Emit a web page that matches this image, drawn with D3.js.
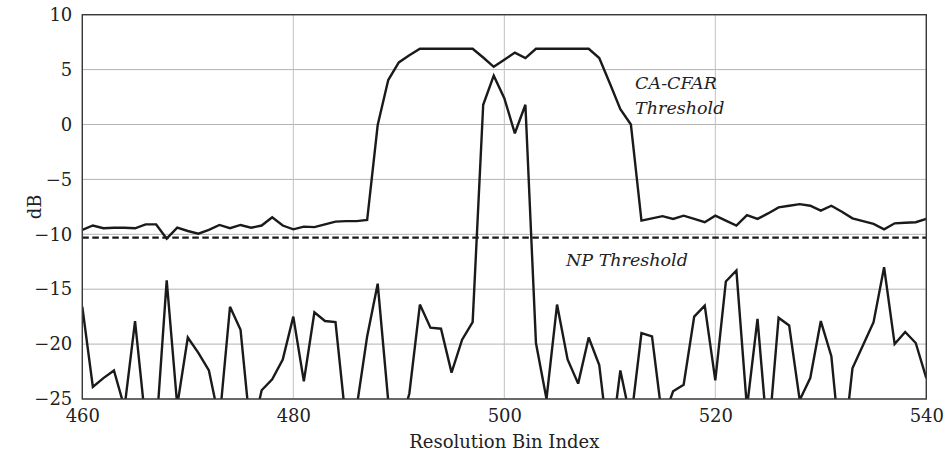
<!DOCTYPE html>
<html>
<head>
<meta charset="utf-8">
<script src="https://cdn.jsdelivr.net/npm/d3@7"></script>
<style>
  html, body { margin: 0; padding: 0; background: #fff; }
  svg { display: block; }
  text { font-family: "DejaVu Serif", "Liberation Serif", serif; fill: #222; }
</style>
</head>
<body>
<svg id="chart" width="945" height="456"></svg>
<script>
// ---- data ----
const bins = [460,461,462,463,464,465,466,467,468,469,470,471,472,473,474,475,476,477,478,479,
  480,481,482,483,484,485,486,487,488,489,490,491,492,493,494,495,496,497,498,499,
  500,501,502,503,504,505,506,507,508,509,510,511,512,513,514,515,516,517,518,519,
  520,521,522,523,524,525,526,527,528,529,530,531,532,533,534,535,536,537,538,539,540];

const signalDb = [-16.6,-23.9,-23.1,-22.4,-25.8,-17.9,-27.2,-28.0,-14.2,-25.6,
  -19.4,-20.8,-22.4,-27.0,-16.6,-18.7,-28.5,-24.2,-23.2,-21.4,
  -17.5,-23.4,-17.1,-17.9,-18.0,-27.2,-25.8,-19.3,-14.5,-25.2,
  -28.0,-24.5,-16.4,-18.5,-18.6,-22.6,-19.6,-18.0,1.8,4.45,
  2.4,-0.8,1.8,-19.9,-25.0,-16.4,-21.4,-23.6,-19.4,-21.9,
  -30.0,-22.4,-27.0,-19.0,-19.3,-27.0,-24.3,-23.7,-17.5,-16.5,
  -23.3,-14.3,-13.3,-25.8,-17.7,-29.0,-17.6,-18.3,-25.1,-23.1,
  -17.9,-21.1,-31.0,-22.2,-20.1,-18.0,-13.0,-20.0,-18.9,-19.9,-23.1];

const cfarDb = [-9.6,-9.2,-9.45,-9.4,-9.4,-9.45,-9.1,-9.1,-10.4,-9.4,
  -9.7,-9.95,-9.6,-9.15,-9.45,-9.15,-9.4,-9.2,-8.45,-9.2,
  -9.55,-9.3,-9.35,-9.1,-8.85,-8.8,-8.8,-8.7,-0.05,4.05,
  5.65,6.3,6.9,6.9,6.9,6.9,6.9,6.9,6.1,5.25,
  5.9,6.55,6.05,6.9,6.9,6.9,6.9,6.9,6.9,6.05,
  3.75,1.4,0.0,-8.75,-8.55,-8.35,-8.6,-8.3,-8.6,-8.9,
  -8.3,-8.75,-9.2,-8.25,-8.6,-8.1,-7.55,-7.4,-7.25,-7.4,
  -7.85,-7.4,-7.95,-8.55,-8.8,-9.05,-9.55,-9.0,-8.95,-8.9,-8.6];

const npThresholdDb = -10.3;

const xTicks = [460, 480, 500, 520, 540];
const yTicks = [10, 5, 0, -5, -10, -15, -20, -25];
const xDomain = [460, 540];
const yDomain = [-25, 10];

// ---- layout ----
const svg = d3.select("#chart");
const margin = { left: 82.3, top: 14.7, right: 945 - 926.3, bottom: 456 - 399 };
const W = 945 - margin.left - margin.right;
const H = 456 - margin.top - margin.bottom;

const x = d3.scaleLinear().domain(xDomain).range([0, W]);
const y = d3.scaleLinear().domain(yDomain).range([H, 0]);

const g = svg.append("g").attr("transform", `translate(${margin.left},${margin.top})`);

svg.append("defs").append("clipPath").attr("id", "plotclip")
  .append("rect").attr("x", 0).attr("y", 0).attr("width", W).attr("height", H);

// gridlines
g.append("g").selectAll("line.hg").data(yTicks).join("line")
  .attr("x1", 0).attr("x2", W)
  .attr("y1", d => y(d)).attr("y2", d => y(d))
  .attr("stroke", "#b3b3b3").attr("stroke-width", 1);
g.append("g").selectAll("line.vg").data(xTicks).join("line")
  .attr("y1", 0).attr("y2", H)
  .attr("x1", d => x(d)).attr("x2", d => x(d))
  .attr("stroke", "#c0c0c0").attr("stroke-width", 1);

// axes (labels only, frame drawn separately)
const fmt = d3.format("");
const xAxis = g.append("g").attr("transform", `translate(0,${H})`)
  .call(d3.axisBottom(x).tickValues(xTicks).tickSize(0).tickPadding(10).tickFormat(fmt));
const yAxis = g.append("g")
  .call(d3.axisLeft(y).tickValues(yTicks).tickSize(0).tickPadding(10).tickFormat(fmt));
[xAxis, yAxis].forEach(a => {
  a.select(".domain").remove();
  a.selectAll("text").attr("font-size", 18).attr("font-family", '"DejaVu Serif", serif').attr("fill", "#222");
});

// data lines
const lineGen = d3.line().x((d, i) => x(bins[i])).y(d => y(d));
const plot = g.append("g").attr("clip-path", "url(#plotclip)");

plot.append("line")
  .attr("x1", 0).attr("x2", W)
  .attr("y1", y(npThresholdDb)).attr("y2", y(npThresholdDb))
  .attr("stroke", "#1a1a1a").attr("stroke-width", 2.4)
  .attr("stroke-dasharray", "6.5,3.5");

plot.append("path").datum(signalDb)
  .attr("d", lineGen).attr("fill", "none")
  .attr("stroke", "#1a1a1a").attr("stroke-width", 2.4).attr("stroke-linejoin", "miter").attr("stroke-miterlimit", 3);

plot.append("path").datum(cfarDb)
  .attr("d", lineGen).attr("fill", "none")
  .attr("stroke", "#1a1a1a").attr("stroke-width", 2.4).attr("stroke-linejoin", "miter").attr("stroke-miterlimit", 3);

// frame
g.append("rect").attr("x", 0).attr("y", 0).attr("width", W).attr("height", H)
  .attr("fill", "none").attr("stroke", "#3a3a3a").attr("stroke-width", 1.4);

// annotations
g.append("text").attr("x", x(512.4)).attr("y", 89 - margin.top)
  .attr("font-size", 17.5).attr("font-style", "italic").text("CA-CFAR");
g.append("text").attr("x", x(512.4)).attr("y", 114 - margin.top)
  .attr("font-size", 17.5).attr("font-style", "italic").text("Threshold");
g.append("text").attr("x", x(505.85)).attr("y", 266 - margin.top)
  .attr("font-size", 17.5).attr("font-style", "italic").text("NP Threshold");

// axis titles
svg.append("text").attr("x", margin.left + W / 2).attr("y", 448)
  .attr("text-anchor", "middle").attr("font-size", 18).text("Resolution Bin Index");
svg.append("text")
  .attr("transform", `translate(41,${margin.top + H / 2}) rotate(-90)`)
  .attr("text-anchor", "middle").attr("font-size", 18).text("dB");
</script>
</body>
</html>
